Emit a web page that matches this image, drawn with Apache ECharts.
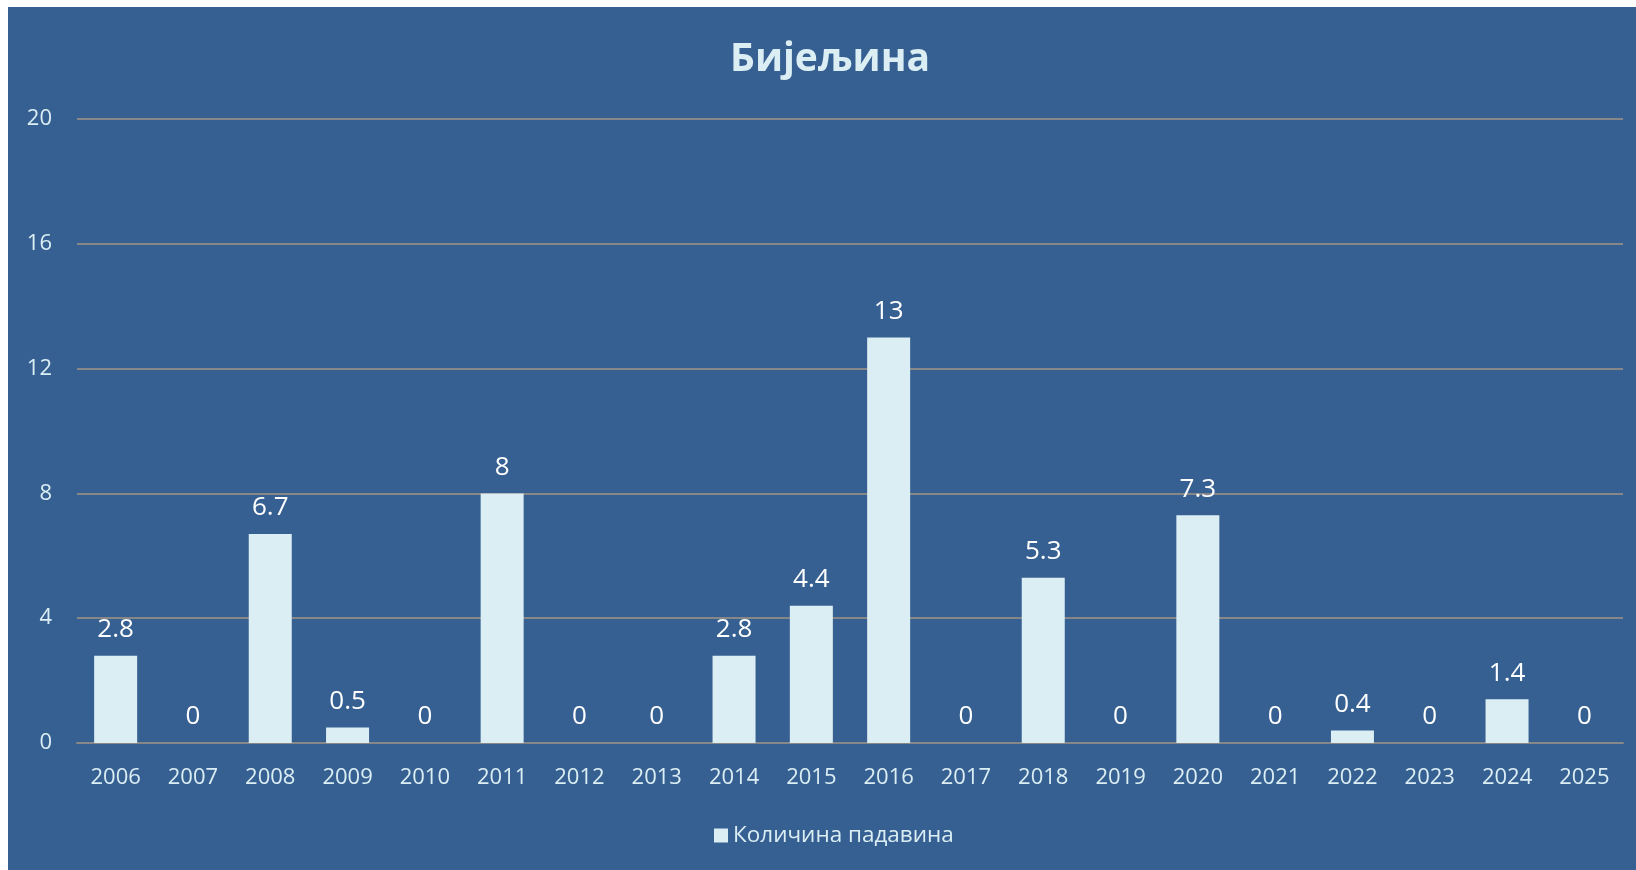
<!DOCTYPE html>
<html>
<head>
<meta charset="utf-8">
<title>Бијељина</title>
<script src="https://cdn.jsdelivr.net/npm/echarts@6/dist/echarts.min.js"></script>
<style>
  html, body {
    margin: 0;
    padding: 0;
    background: #ffffff;
  }
  #chart {
    position: absolute;
    left: 8px;
    top: 7px;
    width: 1628px;
    height: 863px;
  }
</style>
</head>
<body>
<div id="chart"></div>
<script>
// godine i kolicina padavina
var years = ['2006', '2007', '2008', '2009', '2010', '2011', '2012', '2013', '2014', '2015',
  '2016', '2017', '2018', '2019', '2020', '2021', '2022', '2023', '2024', '2025']
var padavine = [2.8, 0, 6.7, 0.5, 0, 8, 0, 0, 2.8, 4.4, 13, 0, 5.3, 0, 7.3, 0, 0.4, 0, 1.4, 0]
var seriesName = 'Количина падавина'
var titleText = 'Бијељина'

var txtColor = '#DBEEF4'
var font = '"Open Sans", "Noto Sans", sans-serif'

var chart = echarts.init(document.getElementById('chart'))
var option = {
  backgroundColor: '#376092',
  animation: false,
  title: {
    text: titleText,
    left: 817,
    textAlign: 'center',
    top: 28,
    textStyle: {
      color: txtColor,
      fontFamily: font,
      fontWeight: 'bold',
      fontSize: 39
    }
  },
  legend: {
    bottom: 18,
    left: 701,
    itemWidth: 14,
    itemHeight: 14,
    itemGap: 6,
    icon: 'rect',
    textStyle: {
      color: txtColor,
      fontFamily: font,
      fontSize: 22.5
    },
    data: [seriesName]
  },
  grid: {
    left: 69,
    right: 13,
    top: 112,
    bottom: 127
  },
  xAxis: {
    type: 'category',
    data: years,
    axisLine: {
      show: true,
      lineStyle: { color: '#878787', width: 2 }
    },
    axisTick: { show: false },
    axisLabel: {
      color: txtColor,
      fontFamily: font,
      fontSize: 22,
      margin: 24
    }
  },
  yAxis: {
    type: 'value',
    min: 0,
    max: 20,
    interval: 4,
    axisLine: { show: false },
    axisTick: { show: false },
    splitLine: {
      lineStyle: { color: '#878787', width: 2 }
    },
    axisLabel: {
      color: txtColor,
      fontFamily: font,
      fontSize: 22,
      margin: 25
    }
  },
  series: [
    {
      name: seriesName,
      type: 'bar',
      data: padavine,
      barWidth: 43,
      itemStyle: {
        color: '#DBEEF4',
        borderWidth: 0
      },
      label: {
        show: true,
        position: 'top',
        distance: 13,
        color: '#ffffff',
        fontFamily: font,
        fontSize: 26
      }
    }
  ]
}
chart.setOption(option)
window.addEventListener('resize', () => {
  chart.resize()
})
</script>
</body>
</html>
